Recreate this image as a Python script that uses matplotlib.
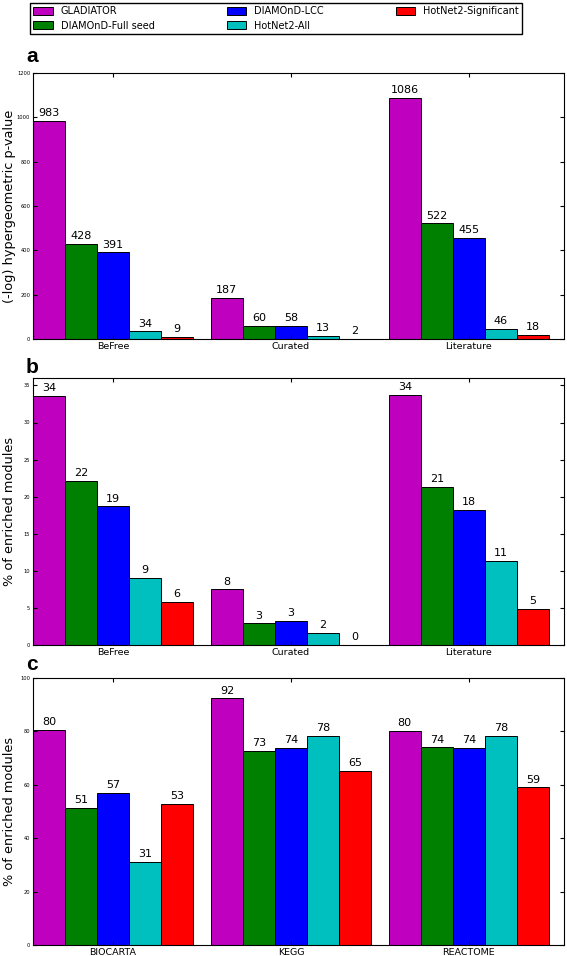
import numpy as np
import matplotlib
matplotlib.use('Agg')
import matplotlib.pyplot as plt

methods = ['GLADIATOR', 'DIAMOnD-Full seed', 'DIAMOnD-LCC', 'HotNet2-All', 'HotNet2-Significant']
colors = ['m', 'g', 'b', 'c', 'r']

# panel a: (-log) hypergeometric p-value
cats_a = ['BeFree', 'Curated', 'Literature']
gladiator_a = [983, 187, 1086]
full_seed_a = [428, 60, 522]
lcc_a = [391, 58, 455]
hotnet_all_a = [34, 13, 46]
hotnet_sig_a = [9, 2, 18]

# panel b: % of enriched modules (disease sets)
cats_b = ['BeFree', 'Curated', 'Literature']
gladiator_b = [33.6, 7.5, 33.7]
full_seed_b = [22.1, 2.9, 21.3]
lcc_b = [18.7, 3.3, 18.2]
hotnet_all_b = [9.1, 1.6, 11.3]
hotnet_sig_b = [5.8, 0.0, 4.9]

# panel c: % of enriched modules (pathways)
cats_c = ['BIOCARTA', 'KEGG', 'REACTOME']
gladiator_c = [80.5, 92.4, 80.1]
full_seed_c = [51.3, 72.6, 74.0]
lcc_c = [56.9, 73.8, 73.7]
hotnet_all_c = [31.0, 78.4, 78.2]
hotnet_sig_c = [52.9, 65.3, 59.0]

panels = [
    ('a', cats_a, [gladiator_a, full_seed_a, lcc_a, hotnet_all_a, hotnet_sig_a],
     '(-log) hypergeometric p-value', 1200, np.arange(0, 1201, 200)),
    ('b', cats_b, [gladiator_b, full_seed_b, lcc_b, hotnet_all_b, hotnet_sig_b],
     '% of enriched modules', 36, np.arange(0, 36, 5)),
    ('c', cats_c, [gladiator_c, full_seed_c, lcc_c, hotnet_all_c, hotnet_sig_c],
     '% of enriched modules', 100, np.arange(0, 101, 20)),
]

W, H = 567, 956
fig = plt.figure(figsize=(W / 100, H / 100), dpi=100)
# (top, bottom, letter baseline) in pixels
boxes = [(73, 339, 62), (378, 645, 373), (678, 945, 670)]
width = 0.18
ind = np.arange(3)

bars = []
for (letter, cats, series, ylabel, ymax, yticks), (top, bot, base) in zip(panels, boxes):
    ax = fig.add_axes([33 / W, 1 - bot / H, 531 / W, (bot - top) / H])
    for i, vals in enumerate(series):
        b = ax.bar(ind + i * width, vals, width, align='edge', color=colors[i],
                   edgecolor='black', linewidth=0.7, label=methods[i])
        if letter == 'a':
            bars.append(b)
        for x, v in zip(ind + i * width + width / 2, vals):
            ax.annotate('%d' % round(v), (x, v), xytext=(0, 2), textcoords='offset points',
                        ha='center', va='bottom', fontsize=8)
    ax.set_xlim(0, 2.985)
    ax.set_ylim(0, ymax)
    ax.set_yticks(yticks)
    ax.set_xticks(ind + 2.5 * width)
    ax.set_xticklabels(cats, fontsize=6.8)
    ax.tick_params(axis='y', labelsize=3.7, direction='in', right=True, length=3, pad=2)
    ax.tick_params(axis='x', direction='in', top=True, length=3, pad=2)
    ax.set_ylabel(ylabel, fontsize=9.3)
    ax.yaxis.set_label_coords(-0.032, 0.5)
    fig.text(26 / W, 1 - base / H, letter, fontsize=15, fontweight='bold',
             family='Liberation Sans', ha='left', va='baseline')

fig.legend(bars, methods, loc='upper left', bbox_to_anchor=(30 / W, 1 - 3 / H, 492 / W, 0),
           mode='expand', ncol=3, fontsize=7, fancybox=False, edgecolor='black',
           framealpha=1, handlelength=2.0, handleheight=0.9, borderpad=0.35,
           labelspacing=0.45, borderaxespad=0)

plt.savefig('out.png', dpi=100)
